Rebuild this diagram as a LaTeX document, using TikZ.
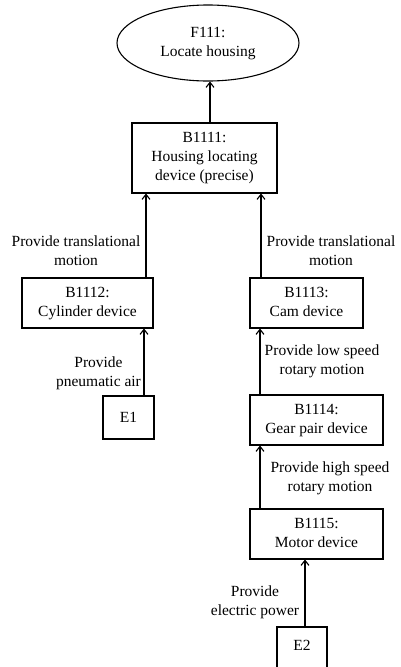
\documentclass[tikz,border=0pt]{standalone}
\usepackage{fontspec}
\setmainfont{Liberation Serif}
\usetikzlibrary{arrows.meta,shapes.geometric}
\newcommand{\mlines}[1]{\begin{tabular}{@{}c@{}}#1\end{tabular}}
\begin{document}
\begin{tikzpicture}[x=1pt,y=-1pt,
  every node/.style={font=\fontsize{15.5}{19}\selectfont, align=center, inner sep=0pt},
  blk/.style={draw, line width=1.1pt},
  arr/.style={line width=1.1pt, -{Straight Barb[length=5pt,width=8pt,line width=1.1pt]}}]
\useasboundingbox (0,0) rectangle (400,667);
\clip (0,0) rectangle (400,667);
% nodes
\node[blk, ellipse, minimum width=182pt, minimum height=76pt] (f111) at (208,43) {\mlines{F111:\\Locate housing}};
\node[blk, minimum width=145pt, minimum height=70pt] (b1111) at (204.5,158) {\mlines{B1111:\\Housing locating\\device (precise)}};
\node[blk, minimum width=131pt, minimum height=50pt] (b1112) at (87.5,303) {\mlines{B1112:\\Cylinder device}};
\node[blk, minimum width=113pt, minimum height=50pt] (b1113) at (306.5,303) {\mlines{B1113:\\Cam device}};
\node[blk, minimum width=51pt, minimum height=43pt] (e1) at (128.5,417.5) {E1};
\node[blk, minimum width=133pt, minimum height=50pt] (b1114) at (316.5,420) {\mlines{B1114:\\Gear pair device}};
\node[blk, minimum width=133pt, minimum height=50pt] (b1115) at (316.5,534) {\mlines{B1115:\\Motor device}};
\node[blk, minimum width=50pt, minimum height=70pt] (e2) at (302,662) {};
\node (e2t) at (302,645) {E2};
% labels
\node (lt1) at (76,252) {\mlines{Provide translational\\motion}};
\node (lt2) at (331,252) {\mlines{Provide translational\\motion}};
\node (lpa) at (98.5,373) {\mlines{Provide\\pneumatic air}};
\node (lls) at (322,361) {\mlines{Provide low speed\\rotary motion}};
\node (lhs) at (330,478) {\mlines{Provide high speed\\rotary motion}};
\node (lep) at (255,602) {\mlines{Provide\\electric power}};
% x positions of connectors
\coordinate (xa) at (210,0);
\coordinate (xl) at (146,0);
\coordinate (xr) at (261,0);
\coordinate (xe) at (144,0);
\coordinate (xm) at (260,0);
\coordinate (xp) at (305,0);
% connectors
\draw[arr] (b1111.north -| xa) -- (f111.south -| xa);
\draw[arr] (b1112.north -| xl) -- (b1111.south -| xl);
\draw[arr] (b1113.north -| xr) -- (b1111.south -| xr);
\draw[arr] (e1.north -| xe) -- (b1112.south -| xe);
\draw[arr] (b1114.north -| xm) -- (b1113.south -| xm);
\draw[arr] (b1115.north -| xm) -- (b1114.south -| xm);
\draw[arr] (e2.north -| xp) -- (b1115.south -| xp);
\end{tikzpicture}
\end{document}
